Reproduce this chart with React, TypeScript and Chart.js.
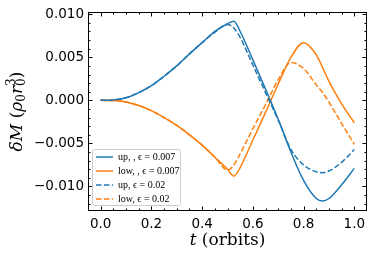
import React, { useEffect, useRef } from "react";
import { Chart, registerables } from "chart.js";

Chart.register(...registerables);

// ---------- data ----------
const tValues = [0, 0.05, 0.1, 0.15, 0.2, 0.25, 0.3, 0.35, 0.4, 0.45, 0.5, 0.525, 0.55, 0.6, 0.65, 0.7, 0.75, 0.8, 0.85, 0.875, 0.9, 0.95, 1.0];
const up007 = [0, 0.00005, 0.0003, 0.0009, 0.0017, 0.0028, 0.004, 0.0054, 0.0067, 0.008, 0.0089, 0.0092, 0.008, 0.0047, 0.0013, -0.0022, -0.006, -0.0093, -0.0114, -0.0117, -0.0114, -0.0098, -0.0079];
const low007 = [0, -0.00003, -0.0002, -0.0006, -0.0012, -0.002, -0.0029, -0.004, -0.0052, -0.0066, -0.008, -0.0088, -0.0078, -0.0046, -0.0014, 0.0019, 0.005, 0.0067, 0.0053, 0.0038, 0.0022, -0.0004, -0.0026];
const up002 = [0, 0.00005, 0.0003, 0.0009, 0.0017, 0.0028, 0.004, 0.0054, 0.0067, 0.0079, 0.0088, 0.0084, 0.0073, 0.0041, 0.0009, -0.0023, -0.0057, -0.0075, -0.0083, -0.0084, -0.0082, -0.0072, -0.0057];
const low002 = [0, -0.00003, -0.0002, -0.0006, -0.0012, -0.002, -0.0029, -0.004, -0.0052, -0.0066, -0.0081, -0.0075, -0.0062, -0.0033, -0.0005, 0.0024, 0.0044, 0.0037, 0.0018, 0.0009, -0.0002, -0.0027, -0.0051];

const seriesLabels = ["up, , ϵ = 0.007", "low, , ϵ = 0.007", "up, ϵ = 0.02", "low, ϵ = 0.02"];

const xTicks = [0, 0.2, 0.4, 0.6, 0.8, 1.0];
const xTickLabels = ["0.0", "0.2", "0.4", "0.6", "0.8", "1.0"];
const yTicks = [-0.01, -0.005, 0, 0.005, 0.01];
const yTickLabels = ["−0.010", "−0.005", "0.000", "0.005", "0.010"];
const xMinorStep = 0.05;
const yMinorStep = 0.001;

const BLUE = "#1f77b4";
const ORANGE = "#ff7f0e";
const DASH = [5.5, 2.4];

function pts(vals: number[]) {
  return tValues.map((t, i) => ({ x: t, y: vals[i] }));
}

type Piece = { text: string; font: string; dy?: number; noAdvance?: boolean };

function drawPieces(ctx: CanvasRenderingContext2D, pieces: Piece[], cx: number, baseline: number) {
  let total = 0;
  for (const p of pieces) {
    ctx.font = p.font;
    if (!p.noAdvance) total += ctx.measureText(p.text).width;
  }
  let x = cx - total / 2;
  ctx.textBaseline = "alphabetic";
  ctx.textAlign = "left";
  for (const p of pieces) {
    ctx.font = p.font;
    ctx.fillText(p.text, x, baseline + (p.dy || 0));
    if (!p.noAdvance) x += ctx.measureText(p.text).width;
  }
}

const framePlugin = {
  id: "frameTicks",
  afterDatasetsDraw(chart: any) {
    const { ctx, chartArea: a, scales } = chart;
    const xs = scales.x;
    const ys = scales.y;
    ctx.save();
    ctx.strokeStyle = "#000";
    ctx.lineWidth = 1;
    const L = Math.round(a.left) + 0.5;
    const R = Math.round(a.right) - 0.5;
    const T = Math.round(a.top) + 0.5;
    const B = Math.round(a.bottom) - 0.5;
    ctx.strokeRect(L, T, R - L, B - T);
    const tick = (x1: number, y1: number, x2: number, y2: number) => {
      ctx.beginPath();
      ctx.moveTo(x1, y1);
      ctx.lineTo(x2, y2);
      ctx.stroke();
    };
    for (let v = -0.05; v <= 1.05 + 1e-9; v += xMinorStep) {
      const vv = Math.round(v * 1000) / 1000;
      const isMajor = xTicks.some((m) => Math.abs(m - vv) < 1e-6);
      const len = isMajor ? 4 : 2;
      const px = Math.round(xs.getPixelForValue(vv)) + 0.5;
      if (px < L || px > R) continue;
      tick(px, B, px, B - len);
      tick(px, T, px, T + len);
    }
    for (let v = -0.012; v <= 0.0102 + 1e-9; v += yMinorStep) {
      const vv = Math.round(v * 10000) / 10000;
      const isMajor = yTicks.some((m) => Math.abs(m - vv) < 1e-7);
      const len = isMajor ? 4 : 2;
      const py = Math.round(ys.getPixelForValue(vv)) + 0.5;
      if (py < T || py > B) continue;
      tick(L, py, L + len, py);
      tick(R, py, R - len, py);
    }
    // legend
    const lx = 92.5, ly = 149.5, lw = 88, lh = 56;
    ctx.beginPath();
    (ctx as any).roundRect(lx, ly, lw, lh, 2);
    ctx.fillStyle = "rgba(255,255,255,0.8)";
    ctx.fill();
    ctx.strokeStyle = "#cccccc";
    ctx.lineWidth = 1;
    ctx.stroke();
    const colors = [BLUE, ORANGE, BLUE, ORANGE];
    const dashed = [false, false, true, true];
    const rows = [157, 171, 185, 199];
    for (let i = 0; i < 4; i++) {
      ctx.strokeStyle = colors[i];
      ctx.lineWidth = 1.5;
      ctx.setLineDash(dashed[i] ? DASH : []);
      ctx.beginPath();
      ctx.moveTo(96, rows[i]);
      ctx.lineTo(113, rows[i]);
      ctx.stroke();
      ctx.setLineDash([]);
      ctx.fillStyle = "#000";
      ctx.font = "10px 'Liberation Serif'";
      ctx.textAlign = "left";
      ctx.textBaseline = "middle";
      ctx.fillText(seriesLabels[i], 118, rows[i] + 0.5);
    }
    ctx.restore();
  },
  afterDraw(chart: any) {
    const { ctx, chartArea: a } = chart;
    ctx.save();
    ctx.fillStyle = "#000";
    const it = "italic 17px 'DejaVu Serif'";
    const up = "17px 'DejaVu Serif'";
    const sm = "12px 'DejaVu Serif'";
    drawPieces(
      ctx,
      [
        { text: "t", font: it },
        { text: " (orbits)", font: up },
      ],
      (a.left + a.right) / 2,
      245
    );
    ctx.translate(22, (a.top + a.bottom) / 2);
    ctx.rotate(-Math.PI / 2);
    drawPieces(
      ctx,
      [
        { text: "δ", font: it },
        { text: "M", font: it },
        { text: " (", font: up },
        { text: "ρ", font: it },
        { text: "0", font: sm, dy: 3 },
        { text: "r", font: it },
        { text: "3", font: sm, dy: -7, noAdvance: true },
        { text: "0", font: sm, dy: 3 },
        { text: ")", font: up },
      ],
      0,
      0
    );
    ctx.restore();
  },
};

export default function App() {
  const ref = useRef<HTMLCanvasElement>(null);
  useEffect(() => {
    document.body.style.margin = "0";
    const canvas = ref.current!;
    const chart = new Chart(canvas, {
      type: "line",
      data: {
        datasets: [
          { label: seriesLabels[0], data: pts(up007), borderColor: BLUE, borderWidth: 1.5, pointRadius: 0, order: 1 },
          { label: seriesLabels[1], data: pts(low007), borderColor: ORANGE, borderWidth: 1.5, pointRadius: 0, order: 1 },
          { label: seriesLabels[2], data: pts(up002), borderColor: BLUE, borderWidth: 1.5, borderDash: DASH, pointRadius: 0, order: 0 },
          { label: seriesLabels[3], data: pts(low002), borderColor: ORANGE, borderWidth: 1.5, borderDash: DASH, pointRadius: 0, order: 0 },
        ],
      },
      options: {
        responsive: false,
        animation: false,
        devicePixelRatio: 1,
        cubicInterpolationMode: "monotone",
        layout: { padding: { top: 10, right: 7, left: 0, bottom: 0 } },
        plugins: { legend: { display: false }, tooltip: { enabled: false } },
        scales: {
          x: {
            type: "linear",
            min: -0.05,
            max: 1.05,
            grid: { display: false, drawTicks: false },
            border: { display: false },
            afterBuildTicks: (s: any) => {
              s.ticks = xTicks.map((v) => ({ value: v }));
            },
            afterFit: (s: any) => {
              s.height = 46;
            },
            ticks: {
              padding: 5,
              maxRotation: 0,
              autoSkip: false,
              color: "#000",
              font: { family: "'DejaVu Sans'", size: 13.5 },
              callback: (v: any) => {
                const i = xTicks.findIndex((m) => Math.abs(m - v) < 1e-9);
                return i >= 0 ? xTickLabels[i] : "";
              },
            },
          },
          y: {
            type: "linear",
            min: -0.01285,
            max: 0.01025,
            grid: { display: false, drawTicks: false },
            border: { display: false },
            afterBuildTicks: (s: any) => {
              s.ticks = yTicks.map((v) => ({ value: v }));
            },
            afterFit: (s: any) => {
              s.width = 88;
            },
            ticks: {
              padding: 4,
              autoSkip: false,
              color: "#000",
              font: { family: "'DejaVu Sans'", size: 13.5 },
              callback: (v: any) => {
                const i = yTicks.findIndex((m) => Math.abs(m - v) < 1e-9);
                return i >= 0 ? yTickLabels[i] : "";
              },
            },
          },
        },
      } as any,
      plugins: [framePlugin],
    });
    return () => chart.destroy();
  }, []);
  return (
    <div style={{ width: 374, height: 257 }}>
      <canvas ref={ref} width={374} height={257} style={{ display: "block" }} />
    </div>
  );
}
